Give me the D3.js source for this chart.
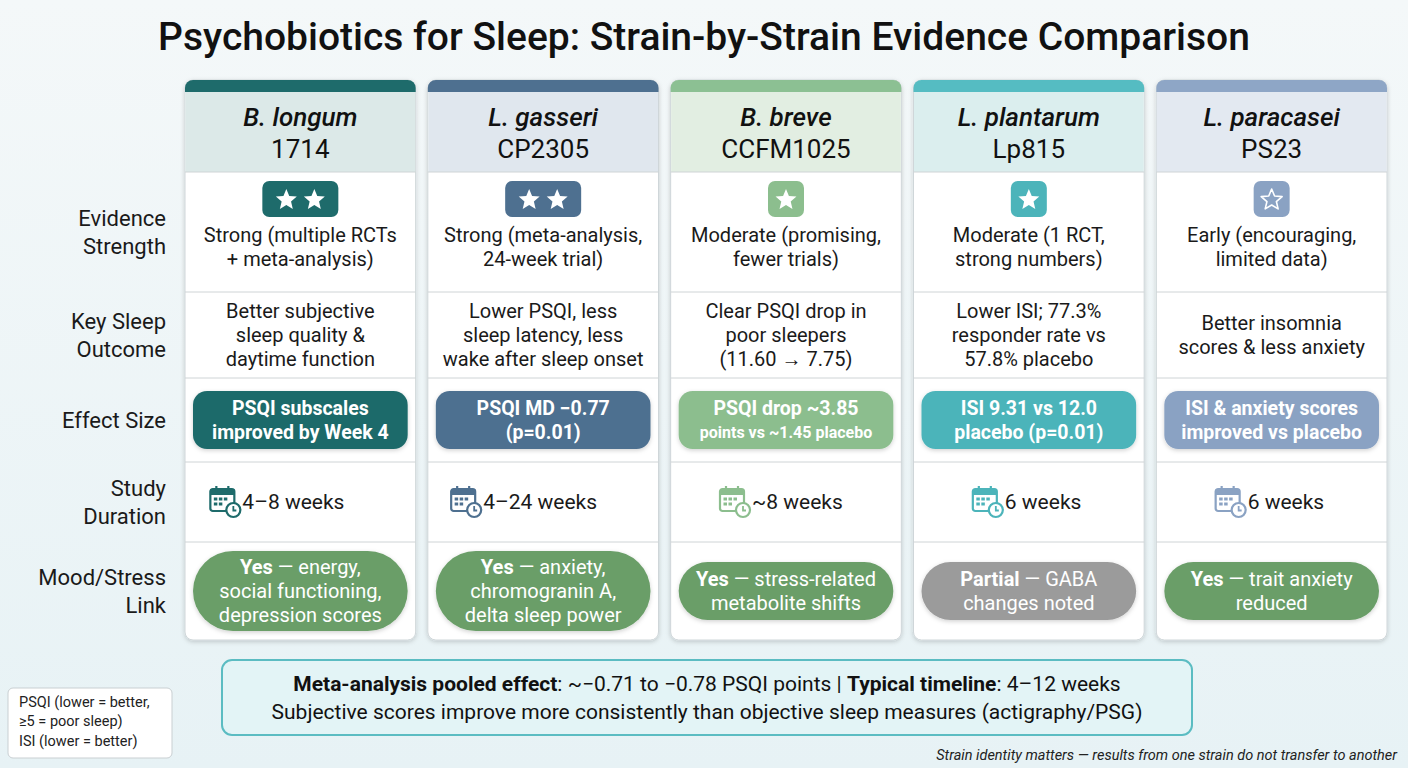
<!DOCTYPE html><html><head><meta charset="utf-8">
<script src="https://cdn.jsdelivr.net/npm/d3@7"></script>
<style>body{margin:0;background:#eef5f7}text{font-family:Roboto,"Noto Sans",sans-serif}</style></head><body>
<svg id="c" width="1408" height="768"></svg>
<script>
const genus=["B. longum","L. gasseri","B. breve","L. plantarum","L. paracasei"];
const strain=["1714","CP2305","CCFM1025","Lp815","PS23"];
const rowLabels=[["Evidence","Strength"],["Key Sleep","Outcome"],["Effect Size"],["Study","Duration"],["Mood/Stress","Link"]];
const stars=[2,2,1,1,0];
const evidence=[["Strong (multiple RCTs","+ meta-analysis)"],["Strong (meta-analysis,","24-week trial)"],["Moderate (promising,","fewer trials)"],["Moderate (1 RCT,","strong numbers)"],["Early (encouraging,","limited data)"]];
const outcome=[["Better subjective","sleep quality &","daytime function"],["Lower PSQI, less","sleep latency, less","wake after sleep onset"],["Clear PSQI drop in","poor sleepers","(11.60 → 7.75)"],["Lower ISI; 77.3%","responder rate vs","57.8% placebo"],["Better insomnia","scores & less anxiety"]];
const effect=[["PSQI subscales","improved by Week 4"],["PSQI MD −0.77","(p=0.01)"],["PSQI drop ~3.85","points vs ~1.45 placebo"],["ISI 9.31 vs 12.0","placebo (p=0.01)"],["ISI & anxiety scores","improved vs placebo"]];
const duration=["4–8 weeks","4–24 weeks","~8 weeks","6 weeks","6 weeks"];
const moodBold=["Yes","Yes","Yes","Partial","Yes"];
const mood=[["— energy,","social functioning,","depression scores"],["— anxiety,","chromogranin A,","delta sleep power"],["— stress-related","metabolite shifts"],["— GABA","changes noted"],["— trait anxiety","reduced"]];
const accent=["#1e6b6b","#4e7090","#8cc093","#55bcc2","#8ea6c6"];
const headFill=["#dce9e8","#e0e7ee","#e2eee2","#dbeeee","#e3e9f1"];
const badge=["#1e6b6b","#4e7090","#8cbe8e","#4cb4ba","#8aa2c3"];
const moodFill=["#6a9e68","#6a9e68","#6a9e68","#9b9b9b","#6a9e68"];

const svg=d3.select("#c");
const defs=svg.append("defs");
const sh=defs.append("filter").attr("id","sh").attr("x","-10%").attr("y","-10%").attr("width","120%").attr("height","130%");
sh.append("feDropShadow").attr("dx",0).attr("dy",1.5).attr("stdDeviation",2).attr("flood-opacity",0.18);
const bg=defs.append("linearGradient").attr("id","bg").attr("x1",0).attr("y1",0).attr("x2",0).attr("y2",1);
bg.append("stop").attr("offset",0).attr("stop-color","#f4f8f9");bg.append("stop").attr("offset",1).attr("stop-color","#e7f2f5");
svg.append("rect").attr("width",1408).attr("height",768).attr("fill","url(#bg)");

svg.append("text").attr("x",704).attr("y",50).attr("text-anchor","middle").attr("font-size",39).attr("font-weight",500).attr("fill","#111").text("Psychobiotics for Sleep: Strain-by-Strain Evidence Comparison");

const x=d3.scaleBand().domain(d3.range(5)).range([185,1387]).paddingInner(0.05).paddingOuter(0);
const rowEdges=[172,292,378,462,542,640];
const y=i=>rowEdges[i], h=i=>rowEdges[i+1]-rowEdges[i];
const topY=80,bw=x.bandwidth();

function lines(g,arr,cx,cy,size,lh,fill,weight){
  const t=g.append("text").attr("text-anchor","middle").attr("font-size",size).attr("fill",fill).attr("font-weight",weight||400);
  arr.forEach((s,i)=>t.append("tspan").attr("x",cx).attr("y",cy+(i-(arr.length-1)/2)*lh).attr("dy","0.35em").text(s));
  return t;
}
function starPath(cx,cy,r){const p=[];for(let k=0;k<10;k++){const a=-Math.PI/2+k*Math.PI/5,rr=k%2?r*0.45:r;p.push([cx+rr*Math.cos(a),cy+rr*Math.sin(a)]);}return "M"+p.join("L")+"Z";}

rowLabels.forEach((l,i)=>lines(svg,l,166,y(i)+h(i)/2,22,28,"#1a1a1a").attr("text-anchor","end"));

d3.range(5).forEach(c=>{
  const g=svg.append("g"),x0=x(c),cx=x0+bw/2;
  g.append("rect").attr("x",x0).attr("y",topY).attr("width",bw).attr("height",640-topY).attr("rx",8).attr("fill","#fff").attr("stroke","#cfd6d9").attr("filter","url(#sh)");
  g.append("path").attr("d",`M${x0},${topY+8}a8,8 0 0 1 8,-8h${bw-16}a8,8 0 0 1 8,8v4h${-bw}Z`).attr("fill",accent[c]);
  g.append("rect").attr("x",x0+0.5).attr("y",topY+12).attr("width",bw-1).attr("height",172-topY-12).attr("fill",headFill[c]);
  g.append("text").attr("x",cx).attr("y",126).attr("text-anchor","middle").attr("font-size",26).attr("font-style","italic").attr("font-weight",500).attr("fill","#111").text(genus[c]);
  g.append("text").attr("x",cx).attr("y",158).attr("text-anchor","middle").attr("font-size",26).attr("fill","#111").text(strain[c]);
  rowEdges.slice(0,5).forEach(e=>g.append("line").attr("x1",x0).attr("x2",x0+bw).attr("y1",e).attr("y2",e).attr("stroke","#cfd4d6"));
  const n=Math.max(stars[c],1),w=n==2?76:36;
  g.append("rect").attr("x",cx-w/2).attr("y",181).attr("width",w).attr("height",36).attr("rx",7).attr("fill",badge[c]);
  for(let k=0;k<n;k++){const sx=cx+(n==2?(k?14:-14):0);
    g.append("path").attr("d",starPath(sx,200,11)).attr("fill",stars[c]?"#fff":"none").attr("stroke","#fff").attr("stroke-width",stars[c]?0:1.6).attr("stroke-linejoin","round");}
  lines(g,evidence[c],cx,247,20,24,"#1a1a1a");
  lines(g,outcome[c],cx,y(1)+h(1)/2,20,24,"#1a1a1a");
  g.append("rect").attr("x",x0+8).attr("y",391).attr("width",bw-16).attr("height",58).attr("rx",14).attr("fill",badge[c]).attr("filter","url(#sh)");
  lines(g,effect[c],cx,420,19.5,24,"#fff",700).selectAll("tspan").attr("font-size",(d,i)=>c==2&&i==1?16:19.5);
  const offs=[-90,-92,-66,-56,-56];
  const ic=g.append("g").attr("transform",`translate(${cx+offs[c]},486)`).attr("fill","none").attr("stroke",badge[c]);
  ic.append("rect").attr("x",0).attr("y",3).attr("width",24).attr("height",22).attr("rx",2.5).attr("fill","#fff").attr("stroke-width",2.2);
  ic.append("rect").attr("x",0).attr("y",3).attr("width",24).attr("height",6).attr("fill",badge[c]).attr("stroke","none");
  ic.append("line").attr("x1",6).attr("x2",6).attr("y1",0).attr("y2",6).attr("stroke-width",2.2);
  ic.append("line").attr("x1",18).attr("x2",18).attr("y1",0).attr("y2",6).attr("stroke-width",2.2);
  [[5,13],[10,13],[15,13],[5,18],[10,18]].forEach(p=>ic.append("rect").attr("x",p[0]-1.5).attr("y",p[1]-1.5).attr("width",3.5).attr("height",3).attr("fill",badge[c]).attr("stroke","none"));
  ic.append("circle").attr("cx",23).attr("cy",24).attr("r",7).attr("fill","#fff").attr("stroke-width",2.2);
  ic.append("path").attr("d","M23,20v4.5h3").attr("stroke-width",1.8);
  g.append("text").attr("x",cx+offs[c]+32).attr("y",502).attr("dy","0.35em").attr("font-size",21).attr("fill","#1a1a1a").text(duration[c]);
  const three=mood[c].length==3;
  const ph=three?80:58, py=three?551:562;
  g.append("rect").attr("x",x0+8).attr("y",py).attr("width",bw-16).attr("height",ph).attr("rx",ph/2).attr("fill",moodFill[c]).attr("filter","url(#sh)");
  const t=lines(g,mood[c],cx,py+ph/2,20,24,"#fff");
  const f=t.select("tspan");f.text(null);
  f.append("tspan").attr("font-weight",700).text(moodBold[c]+" ");f.append("tspan").text(mood[c][0]);
});

const bb=svg.append("g");
bb.append("rect").attr("x",222).attr("y",660).attr("width",970).attr("height",75).attr("rx",10).attr("fill","#e3f4f6").attr("stroke","#5bbcc2").attr("stroke-width",2);
const t1=bb.append("text").attr("x",707).attr("y",691).attr("text-anchor","middle").attr("font-size",21).attr("fill","#111");
t1.append("tspan").attr("font-weight",700).text("Meta-analysis pooled effect");t1.append("tspan").text(": ~−0.71 to −0.78 PSQI points | ");
t1.append("tspan").attr("font-weight",700).text("Typical timeline");t1.append("tspan").text(": 4–12 weeks");
bb.append("text").attr("x",707).attr("y",719).attr("text-anchor","middle").attr("font-size",21).attr("fill","#111").text("Subjective scores improve more consistently than objective sleep measures (actigraphy/PSG)");

svg.append("rect").attr("x",8).attr("y",688).attr("width",164).attr("height",70).attr("rx",5).attr("fill","#fff").attr("stroke","#c9cfd2");
[["PSQI (lower = better,",707],["≥5 = poor sleep)",726],["ISI (lower = better)",746]].forEach(d=>svg.append("text").attr("x",19).attr("y",d[1]).attr("font-size",14.5).attr("fill","#222").text(d[0]));
svg.append("text").attr("x",1397).attr("y",760).attr("text-anchor","end").attr("font-size",14.5).attr("font-style","italic").attr("fill","#222").text("Strain identity matters — results from one strain do not transfer to another");
</script></body></html>
